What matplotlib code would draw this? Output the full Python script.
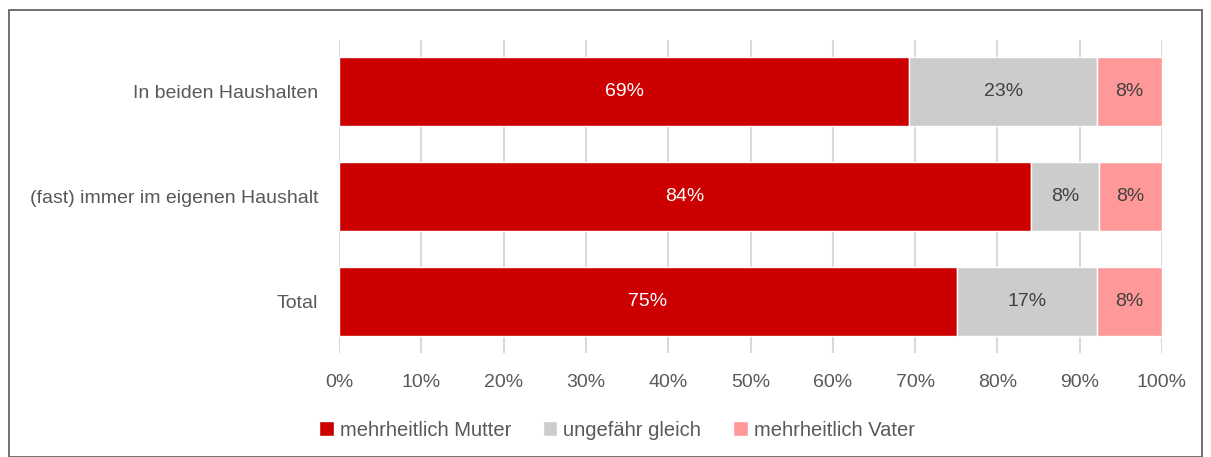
import matplotlib
matplotlib.use('Agg')
import matplotlib.pyplot as plt
from matplotlib.patches import Rectangle

plt.rcParams['font.family'] = ['Liberation Sans', 'DejaVu Sans']

categories = ['In beiden Haushalten', '(fast) immer im eigenen Haushalt', 'Total']
mutter = [69.3, 84.1, 75.1]
gleich = [22.8, 8.2, 17.0]
vater = [7.9, 7.7, 7.9]
labels_mutter = ['69%', '84%', '75%']
labels_gleich = ['23%', '8%', '17%']
labels_vater = ['8%', '8%', '8%']
series_names = ['mehrheitlich Mutter', 'ungefähr gleich', 'mehrheitlich Vater']
colors = ['#cc0000', '#cccccc', '#ff9999']
ticks = [0, 10, 20, 30, 40, 50, 60, 70, 80, 90, 100]

fig = plt.figure(figsize=(12.11, 4.57), dpi=100)
ax = fig.add_axes([339/1211, 1-353/457, 823/1211, 313/457])

y = range(len(categories))
left2 = [m for m in mutter]
left3 = [m + g for m, g in zip(mutter, gleich)]
b1 = ax.barh(y, mutter, height=0.66, color=colors[0], edgecolor='white', linewidth=1, label=series_names[0], zorder=3)
b2 = ax.barh(y, gleich, left=left2, height=0.66, color=colors[1], edgecolor='white', linewidth=1, label=series_names[1], zorder=3)
b3 = ax.barh(y, vater, left=left3, height=0.66, color=colors[2], edgecolor='white', linewidth=1, label=series_names[2], zorder=3)

ax.bar_label(b1, labels=labels_mutter, label_type='center', color='white', fontsize=14)
ax.bar_label(b2, labels=labels_gleich, label_type='center', color='#404040', fontsize=14)
ax.bar_label(b3, labels=labels_vater, label_type='center', color='#404040', fontsize=14)

ax.set_xlim(0, 100)
ax.set_ylim(2.49, -0.49)
ax.set_xticks(ticks)
ax.set_xticklabels([f'{t}%' for t in ticks], fontsize=14, color='#595959')
ax.set_yticks(list(y))
ax.set_yticklabels(categories, fontsize=14, color='#595959')
ax.tick_params(axis='both', length=0)
ax.tick_params(axis='x', pad=15)
ax.tick_params(axis='y', pad=15)
ax.grid(axis='x', color='#d9d9d9', linewidth=1.5, zorder=0)
for s in ax.spines.values():
    s.set_visible(False)

fig.legend(handles=[b1, b2, b3], labels=series_names, loc='center',
           bbox_to_anchor=(617/1211, 1-430/457), ncol=3, frameon=False,
           fontsize=14.5, labelcolor='#595959', handlelength=0.7, handleheight=0.7,
           handletextpad=0.3, columnspacing=1.6)

fig.patches.append(Rectangle((9/1211, 0), 1193/1211, 1-10/457, transform=fig.transFigure,
                             fill=False, edgecolor='#595959', linewidth=1.2))

fig.savefig('out.png', dpi=100)
